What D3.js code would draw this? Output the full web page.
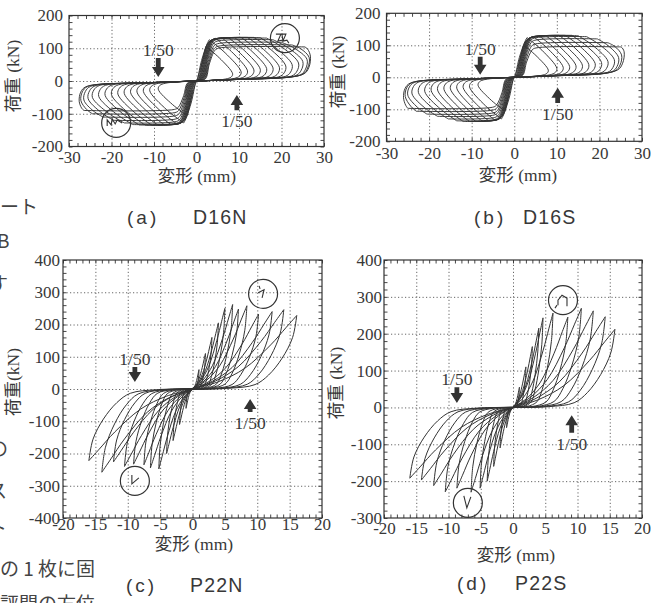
<!DOCTYPE html>
<html>
<head>
<meta charset="utf-8">
<script src="https://cdn.jsdelivr.net/npm/d3@7/dist/d3.min.js"></script>
<style>
  html, body { margin: 0; padding: 0; background: #fff; }
  svg { display: block; }
</style>
</head>
<body>
<svg id="fig" width="660" height="603"></svg>
<script>
// ---------- tick values ----------
const d16XTicks = [-30, -20, -10, 0, 10, 20, 30];
const d16YTicks = [-200, -100, 0, 100, 200];
const p22XTicks = [-20, -15, -10, -5, 0, 5, 10, 15, 20];
const p22nYTicks = [-400, -300, -200, -100, 0, 100, 200, 300, 400];
const p22sYTicks = [-300, -200, -100, 0, 100, 200, 300, 400];

// ---------- D16N : peak of each cycle (mm, kN) and far end of its unloading hook ----------
const d16nPosPeakX = [2.2, 3.0, 4.5, 6.0, 7.5, 9.0, 10.5, 12.0, 13.5, 15.0, 16.5, 18.0, 20.0, 22.5, 25.5];
const d16nPosPeakY = [105, 126, 130, 131, 132, 132, 133, 133, 133, 132, 131, 126, 118, 110, 104];
const d16nPosTipX  = [8.5, 10.5, 12.0, 13.5, 15.0, 16.5, 18.0, 19.5, 21.0, 22.5, 24.0, 25.0, 26.0, 26.5, 26.8];
const d16nPosTipY  = [22, 28, 31, 34, 36, 38, 40, 42, 46, 50, 55, 60, 66, 72, 76];
const d16nNegPeakX = [-2.2, -3.0, -4.5, -6.0, -7.5, -9.0, -10.5, -12.0, -13.5, -15.0, -17.0, -19.5, -22.0, -24.5, -26.5];
const d16nNegPeakY = [-105, -128, -132, -133, -134, -135, -135, -135, -134, -133, -128, -120, -110, -100, -90];
const d16nNegTipX  = [-9.0, -11.0, -12.5, -14.0, -15.5, -17.0, -18.5, -20.0, -21.5, -23.0, -24.5, -25.5, -26.5, -27.2, -27.6];
const d16nNegTipY  = [-25, -30, -32, -34, -36, -38, -40, -42, -44, -47, -50, -54, -58, -60, -62];

// ---------- D16S ----------
const d16sPosPeakX = [2.2, 3.0, 4.5, 6.0, 7.5, 9.0, 10.5, 12.0, 13.5, 15.0, 17.0, 19.5, 22.0, 24.5];
const d16sPosPeakY = [100, 124, 127, 128, 129, 130, 131, 131, 131, 130, 127, 120, 108, 95];
const d16sPosTipX  = [8.0, 10.0, 11.5, 13.0, 14.5, 16.0, 17.5, 19.0, 20.5, 22.0, 23.5, 24.5, 25.2, 25.8];
const d16sPosTipY  = [22, 28, 31, 34, 36, 38, 40, 43, 46, 50, 55, 62, 70, 80];
const d16sNegPeakX = [-2.2, -3.0, -4.5, -6.0, -7.5, -9.0, -10.5, -12.0, -13.5, -15.5, -18.0, -20.5, -23.0, -25.0];
const d16sNegPeakY = [-105, -130, -134, -136, -137, -138, -138, -138, -136, -130, -122, -115, -106, -97];
const d16sNegTipX  = [-8.5, -10.5, -12.0, -13.5, -15.0, -16.5, -18.0, -19.5, -21.0, -22.5, -24.0, -25.0, -25.6, -26.0];
const d16sNegTipY  = [-25, -30, -32, -34, -36, -38, -40, -42, -45, -48, -52, -56, -60, -64];

// ---------- P22N : cycle peaks (mm, kN) ----------
const p22nPosDisp = [1.0, 2.0, 3.0, 4.0, 5.0, 6.2, 7.1, 8.4, 10.2, 12.3, 14.1, 16.1];
const p22nPosLoad = [60, 110, 160, 205, 250, 262, 248, 258, 232, 240, 246, 228];
const p22nNegDisp = [-1.0, -2.0, -3.0, -4.0, -5.2, -6.5, -7.5, -9.1, -10.5, -12.2, -14.0, -16.0];
const p22nNegLoad = [-60, -110, -160, -200, -248, -245, -235, -233, -240, -226, -258, -222];

// ---------- P22S ----------
const p22sPosDisp = [1.0, 2.0, 3.0, 4.0, 4.65, 6.2, 8.5, 10.6, 12.45, 14.3, 15.8];
const p22sPosLoad = [55, 110, 165, 215, 243, 256, 245, 269, 262, 246, 212];
const p22sNegDisp = [-1.0, -2.0, -3.0, -4.0, -5.1, -6.5, -8.7, -10.5, -12.3, -14.2, -16.0];
const p22sNegLoad = [-55, -110, -160, -200, -219, -230, -219, -229, -212, -197, -192];

// ---------- "1/50" drift markers: [x mm, tip kN, tail kN] ----------
const d16nMarkDown = [-9.0, 12, 70];
const d16nMarkUp   = [9.5, -43, -89];
const d16sMarkDown = [-8.0, 8, 64];
const d16sMarkUp   = [10.2, -33, -80];
const p22nMarkDown = [-8.9, 22, 68];
const p22nMarkUp   = [8.9, -31, -71];
const p22sMarkDown = [-8.7, 12, 55];
const p22sMarkUp   = [9.1, -21, -69];

// ---------- crack sketch callouts: [x mm, y kN] ----------
const d16nCrackPos = [[20.8, 131], [-18.9, -128]];
const p22nCrackPos = [[10.9, 295], [-8.9, -285]];
const p22sCrackPos = [[7.75, 291], [-7.0, -259]];

// ---------- loop shape for the P22 specimens (fractions of the cycle peak) ----------
const loadShape   = [[0, 0], [0.25, 0.1], [0.5, 0.28], [0.75, 0.6], [0.9, 0.84], [1, 1]];
const unloadShape = [[1, 1], [0.96, 0.7], [0.86, 0.42], [0.73, 0.19], [0.6, 0.06], [0.35, 0.01], [0, 0]];

const INK = '#333';
const TXT = '#383838';
const SERIF = "'Liberation Serif', 'DejaVu Serif'";
const JP = "'Liberation Serif', 'Noto Sans CJK JP'";
const SANS = "'Liberation Sans', 'DejaVu Sans'";
const CJK = "'Noto Sans CJK JP'";

const svg = d3.select('#fig');
svg.append('rect').attr('width', 660).attr('height', 603).attr('fill', '#fff');

const curve = d3.line().curve(d3.curveCatmullRom.alpha(0.5));

// half cycle of a D16 loop: slip, steep rise, plateau to the peak, then the unloading hook
function d16Half(ax, ay, tx, ty, k) {
  const sg = Math.sign(ax);
  const r = Math.min(0.13 * k, Math.max(0, Math.abs(ax) - 3.4)) * sg;   // slip before pick-up
  const rise = [[0, 0], [r + 0.25 * sg, 0.06 * ay], [r + 1.2 * sg, 0.5 * ay]];
  if (Math.abs(ax) > Math.abs(r) + 2.8) rise.push([r + 2.5 * sg, 0.9 * ay]);
  if (Math.abs(ax) > Math.abs(r) + 4.5) rise.push([r + 3.4 * sg, 0.965 * ay]);
  rise.push([ax, ay]);
  const fall = [
    [ax, ay],
    [ax + 0.5 * (tx - ax), ay + 0.5 * (ty - ay) + 0.07 * ay],
    [tx, ty],
    [tx - 0.35 * sg, 0.55 * ty],
    [tx - 1.6 * sg, 0.28 * ty],
    [0.45 * tx, 0.1 * ty],
    [0, 0]
  ];
  return [rise, fall];
}

function p22Half(d, p) {
  return [
    loadShape.map(f => [f[0] * d, f[1] * p]),
    unloadShape.map(f => [f[0] * d, f[1] * p])
  ];
}

function drawPanel(cfg) {
  const x = d3.scaleLinear().domain(cfg.xDomain).range([cfg.left, cfg.right]);
  const y = d3.scaleLinear().domain(cfg.yDomain).range([cfg.bottom, cfg.top]);
  const w = cfg.right - cfg.left, h = cfg.bottom - cfg.top;
  const g = svg.append('g');

  // dotted grid
  const xInner = cfg.xTicks.filter(v => v > cfg.xDomain[0] && v < cfg.xDomain[1]);
  const yInner = cfg.yTicks.filter(v => v > cfg.yDomain[0] && v < cfg.yDomain[1]);
  const gridStyle = sel => {
    sel.select('.domain').remove();
    sel.selectAll('line').attr('stroke', '#555').attr('stroke-width', 0.9)
      .attr('stroke-dasharray', '1.2,2.3');
  };
  g.append('g').attr('transform', `translate(0,${cfg.bottom})`)
    .call(d3.axisBottom(x).tickValues(xInner).tickSize(-h).tickFormat(''))
    .call(gridStyle);
  g.append('g').attr('transform', `translate(${cfg.left},0)`)
    .call(d3.axisLeft(y).tickValues(yInner).tickSize(-w).tickFormat(''))
    .call(gridStyle);

  // inward ticks on all four sides
  const xMinor = d3.range(cfg.xDomain[0], cfg.xDomain[1] + 1e-9, cfg.xMinor);
  const yMinor = d3.range(cfg.yDomain[0], cfg.yDomain[1] + 1e-9, cfg.yMinor);
  const tickStyle = sel => {
    sel.select('.domain').remove();
    sel.selectAll('line').attr('stroke', INK).attr('stroke-width', 0.9);
  };
  g.append('g').attr('transform', `translate(0,${cfg.bottom})`)
    .call(d3.axisBottom(x).tickValues(xMinor).tickSize(-3.5).tickFormat('')).call(tickStyle);
  g.append('g').attr('transform', `translate(0,${cfg.top})`)
    .call(d3.axisTop(x).tickValues(xMinor).tickSize(-3.5).tickFormat('')).call(tickStyle);
  g.append('g').attr('transform', `translate(${cfg.left},0)`)
    .call(d3.axisLeft(y).tickValues(yMinor).tickSize(-3.5).tickFormat('')).call(tickStyle);
  g.append('g').attr('transform', `translate(${cfg.right},0)`)
    .call(d3.axisRight(y).tickValues(yMinor).tickSize(-3.5).tickFormat('')).call(tickStyle);

  // hysteresis loops
  const toPx = pts => pts.map(p => [x(p[0]), y(p[1])]);
  const loops = g.append('g').attr('fill', 'none').attr('stroke', INK)
    .attr('stroke-width', cfg.lineWidth).attr('stroke-linejoin', 'round');
  cfg.cycles.forEach(c => {
    const d = c.map(seg => curve(toPx(seg))).join('');
    loops.append('path').attr('d', d);
  });

  // frame
  g.append('rect').attr('x', cfg.left).attr('y', cfg.top).attr('width', w).attr('height', h)
    .attr('fill', 'none').attr('stroke', INK).attr('stroke-width', 1.2);

  // tick labels
  const labStyle = sel => {
    sel.select('.domain').remove();
    sel.selectAll('text').style('font-family', SERIF).style('font-size', '17px')
      .attr('fill', TXT);
  };
  g.append('g').attr('transform', `translate(0,${cfg.bottom})`)
    .call(d3.axisBottom(x).tickValues(cfg.xTicks).tickSize(0).tickPadding(cfg.xPad)
      .tickFormat(d => String(d)))
    .call(labStyle);
  g.append('g').attr('transform', `translate(${cfg.left},0)`)
    .call(d3.axisLeft(y).tickValues(cfg.yTicks).tickSize(0).tickPadding(cfg.yPad)
      .tickFormat(d => String(d)))
    .call(labStyle);

  // axis titles
  g.append('text').attr('x', cfg.xTitle[0]).attr('y', cfg.xTitle[1])
    .attr('text-anchor', 'middle').style('font-family', JP).style('font-size', '17.5px')
    .attr('fill', TXT).text('変形 (mm)');
  g.append('text')
    .attr('transform', `translate(${cfg.yTitle[0]},${cfg.yTitle[1]}) rotate(-90)`)
    .attr('text-anchor', 'middle').attr('dominant-baseline', 'central')
    .style('font-family', JP).style('font-size', '17.5px').attr('fill', TXT).text(cfg.yTitleText);

  // 1/50 drift markers
  const arrow = (m, dir) => {
    const cx = x(m[0]), tip = y(m[1]), tail = y(m[2]);
    const hl = 10 * dir;      // dir: +1 pointing down, -1 pointing up
    const pts = [[cx - 2.4, tail], [cx + 2.4, tail], [cx + 2.4, tip - hl], [cx + 6.3, tip - hl],
                 [cx, tip], [cx - 6.3, tip - hl], [cx - 2.4, tip - hl]];
    g.append('path').attr('d', d3.line()(pts) + 'Z').attr('fill', INK);
    g.append('text').attr('x', cx)
      .attr('y', dir > 0 ? tail - 2 : tail + 17)
      .attr('text-anchor', 'middle').style('font-family', SERIF).style('font-size', '17.5px')
      .attr('fill', TXT).text('1/50');
  };
  arrow(cfg.markDown, 1);
  arrow(cfg.markUp, -1);

  // crack sketch callouts
  (cfg.cracks || []).forEach((c, i) => {
    const cx = x(c[0]), cy = y(c[1]);
    g.append('circle').attr('cx', cx).attr('cy', cy).attr('r', 14.5)
      .attr('fill', 'none').attr('stroke', INK).attr('stroke-width', 1.2);
    g.append('path').attr('transform', `translate(${cx},${cy})`).attr('d', cfg.sketches[i])
      .attr('fill', 'none').attr('stroke', INK).attr('stroke-width', 1.1);
  });

  // caption
  g.append('text').attr('x', cfg.caption[0]).attr('y', cfg.caption[2])
    .style('font-family', SANS).style('font-size', '19px').attr('fill', TXT)
    .attr('letter-spacing', 3).text(cfg.captionTag);
  g.append('text').attr('x', cfg.caption[1]).attr('y', cfg.caption[2])
    .style('font-family', SANS).style('font-size', '19.5px').attr('fill', TXT)
    .attr('letter-spacing', 1.2).text(cfg.captionName);
}

function d16Cycles(pPX, pPY, pTX, pTY, nPX, nPY, nTX, nTY) {
  return pPX.map((_, i) => {
    const a = d16Half(pPX[i], pPY[i], pTX[i], pTY[i], i);
    const b = d16Half(nPX[i], nPY[i], nTX[i], nTY[i], i);
    return [...a, ...b];
  });
}
function p22Cycles(pD, pL, nD, nL) {
  return pD.map((_, i) => [...p22Half(pD[i], pL[i]), ...p22Half(nD[i], nL[i])]);
}

// (a) D16N
drawPanel({
  xDomain: [-30, 30], yDomain: [-200, 200], left: 69, right: 324, top: 15.5, bottom: 146.5,
  xTicks: d16XTicks, yTicks: d16YTicks, xMinor: 2, yMinor: 20, xPad: 4, yPad: 6,
  lineWidth: 0.95,
  cycles: d16Cycles(d16nPosPeakX, d16nPosPeakY, d16nPosTipX, d16nPosTipY,
                    d16nNegPeakX, d16nNegPeakY, d16nNegTipX, d16nNegTipY),
  xTitle: [197, 182], yTitle: [13, 76], yTitleText: '荷重 (kN)',
  markDown: d16nMarkDown, markUp: d16nMarkUp,
  cracks: d16nCrackPos,
  sketches: ['M-9,-4 l5,0 l-3,7 l5,-1 l-1,-6 l4,0 l-3,7 l4,-1 l2,3',
             'M-9,3 l0,-6 l4,5 l1,-6 l3,5 l2,-4 l5,3'],
  caption: [127, 193, 224], captionTag: '(a)', captionName: 'D16N'
});

// (b) D16S
drawPanel({
  xDomain: [-30, 30], yDomain: [-200, 200], left: 386.5, right: 642, top: 13.3, bottom: 141.3,
  xTicks: d16XTicks, yTicks: d16YTicks, xMinor: 2, yMinor: 20, xPad: 6, yPad: 6,
  lineWidth: 0.95,
  cycles: d16Cycles(d16sPosPeakX, d16sPosPeakY, d16sPosTipX, d16sPosTipY,
                    d16sNegPeakX, d16sNegPeakY, d16sNegTipX, d16sNegTipY),
  xTitle: [518, 181], yTitle: [338, 72], yTitleText: '荷重 (kN)',
  markDown: d16sMarkDown, markUp: d16sMarkUp,
  caption: [474, 523, 224], captionTag: '(b)', captionName: 'D16S'
});

// (c) P22N
drawPanel({
  xDomain: [-20, 20], yDomain: [-400, 400], left: 63, right: 322, top: 260, bottom: 518,
  xTicks: p22XTicks, yTicks: p22nYTicks, xMinor: 1, yMinor: 20, xPad: 0, yPad: 3,
  lineWidth: 1.0,
  cycles: p22Cycles(p22nPosDisp, p22nPosLoad, p22nNegDisp, p22nNegLoad),
  xTitle: [194, 550], yTitle: [13, 382], yTitleText: '荷重(kN)',
  markDown: p22nMarkDown, markUp: p22nMarkUp,
  cracks: p22nCrackPos,
  sketches: ['M-4,-8 l1,3 M-5,-1 l6,-3 l-2,8', 'M-3,-6 l0,9 l7,-6'],
  caption: [126, 190, 592], captionTag: '(c)', captionName: 'P22N'
});

// (d) P22S
drawPanel({
  xDomain: [-20, 20], yDomain: [-300, 400], left: 384, right: 642, top: 260, bottom: 518,
  xTicks: p22XTicks, yTicks: p22sYTicks, xMinor: 1, yMinor: 20, xPad: 4, yPad: 2,
  lineWidth: 1.0,
  cycles: p22Cycles(p22sPosDisp, p22sPosLoad, p22sNegDisp, p22sNegLoad),
  xTitle: [516, 561], yTitle: [336, 383], yTitleText: '荷重 (kN)',
  markDown: p22sMarkDown, markUp: p22sMarkUp,
  cracks: p22sCrackPos,
  sketches: ['M-8,8 l2,-3 M-5,5 l0,-5 l4,-5 l5,3 l0,8', 'M-4,-7 l3,12 l4,-11'],
  caption: [457, 515, 590], captionTag: '(d)', captionName: 'P22S'
});

// neighbouring page text along the left edge
const marginNotes = [
  ['ート', 0, 214], ['B', -3, 248], ['す', -11, 291], ['の', -11, 456],
  ['ス', -12, 498], ['ト', -12, 535], ['の 1 枚に固', 0, 576], ['評開の方位', 0, 611]
];
svg.append('g').selectAll('text').data(marginNotes).join('text')
  .attr('x', d => d[1]).attr('y', d => d[2])
  .style('font-family', CJK).style('font-size', '19px')
  .attr('fill', '#444').text(d => d[0]);
</script>
</body>
</html>
